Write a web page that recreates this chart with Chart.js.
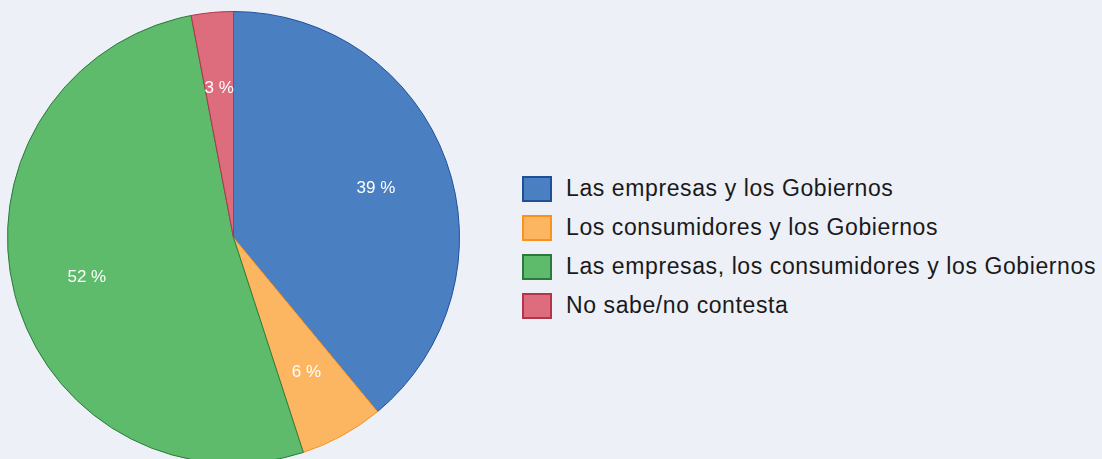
<!DOCTYPE html>
<html>
<head>
<meta charset="utf-8">
<script src="https://cdn.jsdelivr.net/npm/chart.js@4/dist/chart.umd.min.js"></script>
<style>
    html, body { margin: 0; padding: 0; background: #edf0f7; overflow: hidden; }
    body { width: 1102px; height: 459px; position: relative; font-family: "Liberation Sans", Arial, sans-serif; }
    #wrap { position: absolute; left: 0; top: 0; width: 467px; height: 475px; }
    #legend { position: absolute; left: 522px; top: 169px; }
    .item { display: flex; align-items: center; height: 39px; }
    .box { width: 26px; height: 22px; border: 2px solid; margin-right: 14px; }
    .lbl { font-size: 23px; letter-spacing: 0.6px; color: #1a1a1a; }
</style>
</head>
<body>
<div id="wrap"><canvas id="pie"></canvas></div>
<div id="legend"></div>
<script>
const labels = [
    "Las empresas y los Gobiernos",
    "Los consumidores y los Gobiernos",
    "Las empresas, los consumidores y los Gobiernos",
    "No sabe/no contesta",
];
const values = [39, 6, 52, 3];
const fills = ["#4a80c2", "#fcb662", "#5dbb6b", "#dd6c7d"];
const borders = ["#1f4f9b", "#f7931e", "#2b7a3b", "#b3354b"];

// percentage text inside each slice
const sliceLabels = {
    id: "sliceLabels",
    afterDatasetsDraw(chart) {
        const ctx = chart.ctx;
        const meta = chart.getDatasetMeta(0);
        ctx.save();
        ctx.fillStyle = "#ffffff";
        ctx.font = '17px "Liberation Sans", Arial, sans-serif';
        ctx.textAlign = "center";
        ctx.textBaseline = "middle";
        meta.data.forEach((arc, i) => {
            const mid = (arc.startAngle + arc.endAngle) / 2;
            const r = arc.outerRadius * 0.67;
            ctx.fillText(values[i] + " %", arc.x + Math.cos(mid) * r, arc.y + Math.sin(mid) * r + 2);
        });
        ctx.restore();
    },
};

new Chart(document.getElementById("pie").getContext("2d"), {
    type: "pie",
    data: {
        labels: labels,
        datasets: [{
            data: values,
            backgroundColor: fills,
            borderColor: borders,
            borderWidth: 1,
        }],
    },
    options: {
        responsive: true,
        maintainAspectRatio: false,
        animation: false,
        radius: 226,
        layout: { padding: 0 },
        plugins: { legend: { display: false }, tooltip: { enabled: false } },
    },
    plugins: [sliceLabels],
});

const legend = document.getElementById("legend");
labels.forEach((l, i) => {
    const row = document.createElement("div");
    row.className = "item";
    row.innerHTML = `<div class="box" style="background:${fills[i]};border-color:${borders[i]}"></div><div class="lbl">${l}</div>`;
    legend.appendChild(row);
});
</script>
</body>
</html>
